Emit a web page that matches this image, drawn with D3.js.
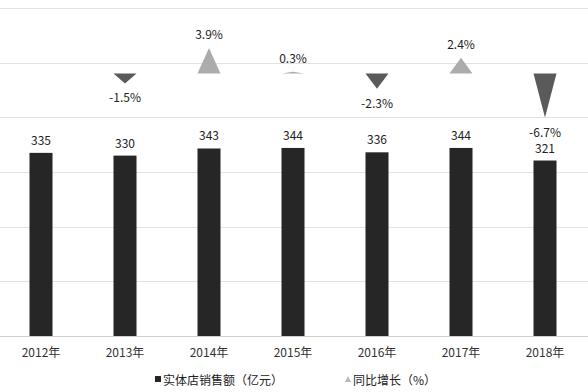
<!DOCTYPE html>
<html><head><meta charset="utf-8">
<script src="https://cdn.jsdelivr.net/npm/d3@7"></script>
<style>
html,body{margin:0;padding:0;background:#fff;}
text{font-family:"Noto Sans CJK SC","Noto Sans",sans-serif;}
</style></head>
<body><svg id="c" width="588" height="392"></svg>
<script>
const categories = ["2012年","2013年","2014年","2015年","2016年","2017年","2018年"];
const sales = [335,330,343,344,336,344,321];
const growth = [null,-1.5,3.9,0.3,-2.3,2.4,-6.7];
const barTicks = [0,100,200,300,400,500,600];
const legendLabels = ["实体店销售额（亿元）","同比增长（%）"];

const svg = d3.select("#c");
const plotTop = 8, plotBottom = 336;
const x = d3.scaleBand().domain(categories).range([-1,587]).paddingInner(0.726).paddingOuter(0.363);
const y = d3.scaleLinear().domain([0,600]).range([plotBottom, plotTop]);
const y2 = d3.scaleLinear().domain([-40,10]).range([plotBottom, plotTop]);

// gridlines
svg.append("g").selectAll("line").data(barTicks).join("line")
  .attr("x1",0).attr("x2",588)
  .attr("y1",d=>Math.round(y(d))+0.5).attr("y2",d=>Math.round(y(d))+0.5)
  .attr("stroke",d=>d===0?"#cfcfcf":"#e2e2e2").attr("stroke-width",1);

// bars
svg.append("g").selectAll("rect").data(sales).join("rect")
  .attr("x",(d,i)=>x(categories[i]))
  .attr("width",x.bandwidth())
  .attr("y",d=>y(d))
  .attr("height",d=>y(0)-y(d))
  .attr("fill","#262626");

svg.append("g").selectAll("text").data(sales).join("text")
  .attr("x",(d,i)=>x(categories[i])+x.bandwidth()/2)
  .attr("y",d=>y(d)-8)
  .attr("text-anchor","middle").attr("font-size",12).attr("fill","#222")
  .text(d=>d);

// growth triangles
const gdata = growth.map((v,i)=>({v,c:categories[i]})).filter(d=>d.v!==null);
svg.append("g").selectAll("path").data(gdata).join("path")
  .attr("d",d=>{
    const x0 = x(d.c), x1 = x0 + x.bandwidth(), xm = x0 + x.bandwidth()/2;
    return `M${x0},${y2(0)}L${x1},${y2(0)}L${xm},${y2(d.v)}Z`;
  })
  .attr("fill",d=>d.v>=0?"#acacac":"#5a5a5a");

svg.append("g").selectAll("text").data(gdata).join("text")
  .attr("x",d=>x(d.c)+x.bandwidth()/2)
  .attr("y",d=>d.v>=0? y2(d.v)-9 : y2(d.v)+19)
  .attr("text-anchor","middle").attr("font-size",12).attr("fill","#222")
  .text(d=>d.v.toFixed(1)+"%");

// x axis labels
svg.append("g").selectAll("text").data(categories).join("text")
  .attr("x",d=>x(d)+x.bandwidth()/2)
  .attr("y",357)
  .attr("text-anchor","middle").attr("font-size",12).attr("fill","#333")
  .text(d=>d);

// legend
const lg = svg.append("g");
lg.append("rect").attr("x",155).attr("y",376).attr("width",6).attr("height",6).attr("fill","#262626");
lg.append("text").attr("x",163).attr("y",385).attr("font-size",12).attr("fill","#222").text(legendLabels[0]);
lg.append("path").attr("d","M345,382L351,382L348,376Z").attr("fill","#b8b8b8");
lg.append("text").attr("x",353).attr("y",385).attr("font-size",12).attr("fill","#222").text(legendLabels[1]);
</script></body></html>
